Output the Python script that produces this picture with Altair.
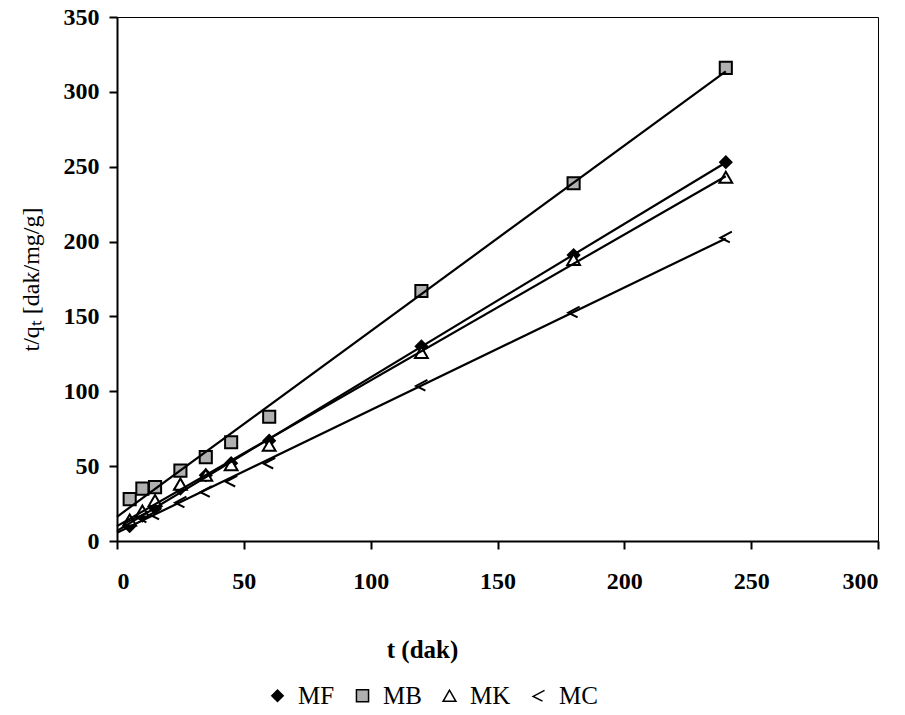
import altair as alt
import pandas as pd

t_values = [5, 10, 15, 25, 35, 45, 60, 120, 180, 240]
series_names = ["MF", "MB", "MK", "MC"]
mf = [10, 17, 22, 35, 44, 52, 67, 130, 191, 253]
mb = [28, 35, 36, 47, 56, 66, 83, 167, 239, 316]
mk = [14, 20, 27, 38, 44, 51, 64, 126, 188, 243]
mc = [12, 16, 18, 26, 33, 40, 52, 104, 153, 203]

rows = []
for name, vals in zip(series_names, [mf, mb, mk, mc]):
    for t, v in zip(t_values, vals):
        rows.append({"t": t, "y": v, "series": name})
df = pd.DataFrame(rows)

mc_path = "M0.9,-0.8 L-0.8,0.1 L0.6,0.8"
shape_scale = alt.Scale(domain=series_names, range=["diamond", "square", "triangle-up", mc_path])
fill_scale = alt.Scale(domain=series_names, range=["black", "#b0b0b0", "white", "transparent"])
stroke_scale = alt.Scale(domain=series_names, range=["black", "black", "black", "black"])
size_scale = alt.Scale(domain=series_names, range=[130, 180, 140, 260])

FONT = "Liberation Serif"

x = alt.X("t:Q", title="t (dak)",
          scale=alt.Scale(domain=[0, 300], nice=False),
          axis=alt.Axis(values=[0, 50, 100, 150, 200, 250, 300], grid=False,
                        labelFontSize=24, labelFont=FONT, labelFontWeight="bold",
                        titleFontSize=25, titleFont=FONT, titleFontWeight="bold",
                        titleX=305, titlePadding=44, labelPadding=20, tickSize=8))
y = alt.Y("y:Q", title="t/qₜ [dak/mg/g]",
          scale=alt.Scale(domain=[0, 350], nice=False),
          axis=alt.Axis(values=[0, 50, 100, 150, 200, 250, 300, 350], grid=False,
                        labelFontSize=24, labelFont=FONT, labelFontWeight="bold",
                        titleFontSize=24, titleFont=FONT, titleFontWeight="normal",
                        titlePadding=20, labelPadding=10, tickSize=8))

legend = alt.Legend(orient="none", legendX=148, legendY=666,
                    direction="horizontal", columns=4, title=None,
                    labelFont=FONT, labelFontSize=25,
                    symbolStrokeWidth=1.5,
                    columnPadding=15, labelOffset=8)

lines = alt.Chart(df).transform_regression(
    "t", "y", groupby=["series"], extent=[0, 240]
).mark_line(color="black", strokeWidth=2.2).encode(
    x=alt.X("t:Q"), y=alt.Y("y:Q"), detail="series:N"
)

points = alt.Chart(df).mark_point(strokeWidth=2, opacity=1).encode(
    x=x, y=y,
    shape=alt.Shape("series:N", scale=shape_scale, title=None, legend=legend),
    fill=alt.Fill("series:N", scale=fill_scale, title=None, legend=legend),
    stroke=alt.Stroke("series:N", scale=stroke_scale, title=None, legend=legend),
    size=alt.Size("series:N", scale=size_scale, title=None, legend=legend),
)

chart = alt.layer(points, lines).properties(
    width=761, height=524,
    autosize=alt.AutoSizeParams(type="none"),
    padding={"left": 117, "top": 17, "right": 27, "bottom": 174},
    background="white",
).configure_view(stroke="black", strokeWidth=1).configure_axis(
    domainColor="black", domainWidth=2, tickColor="black", tickWidth=2,
    labelColor="black", titleColor="black"
)

chart.save("out.html", embed_options={"renderer": "svg", "actions": False})
